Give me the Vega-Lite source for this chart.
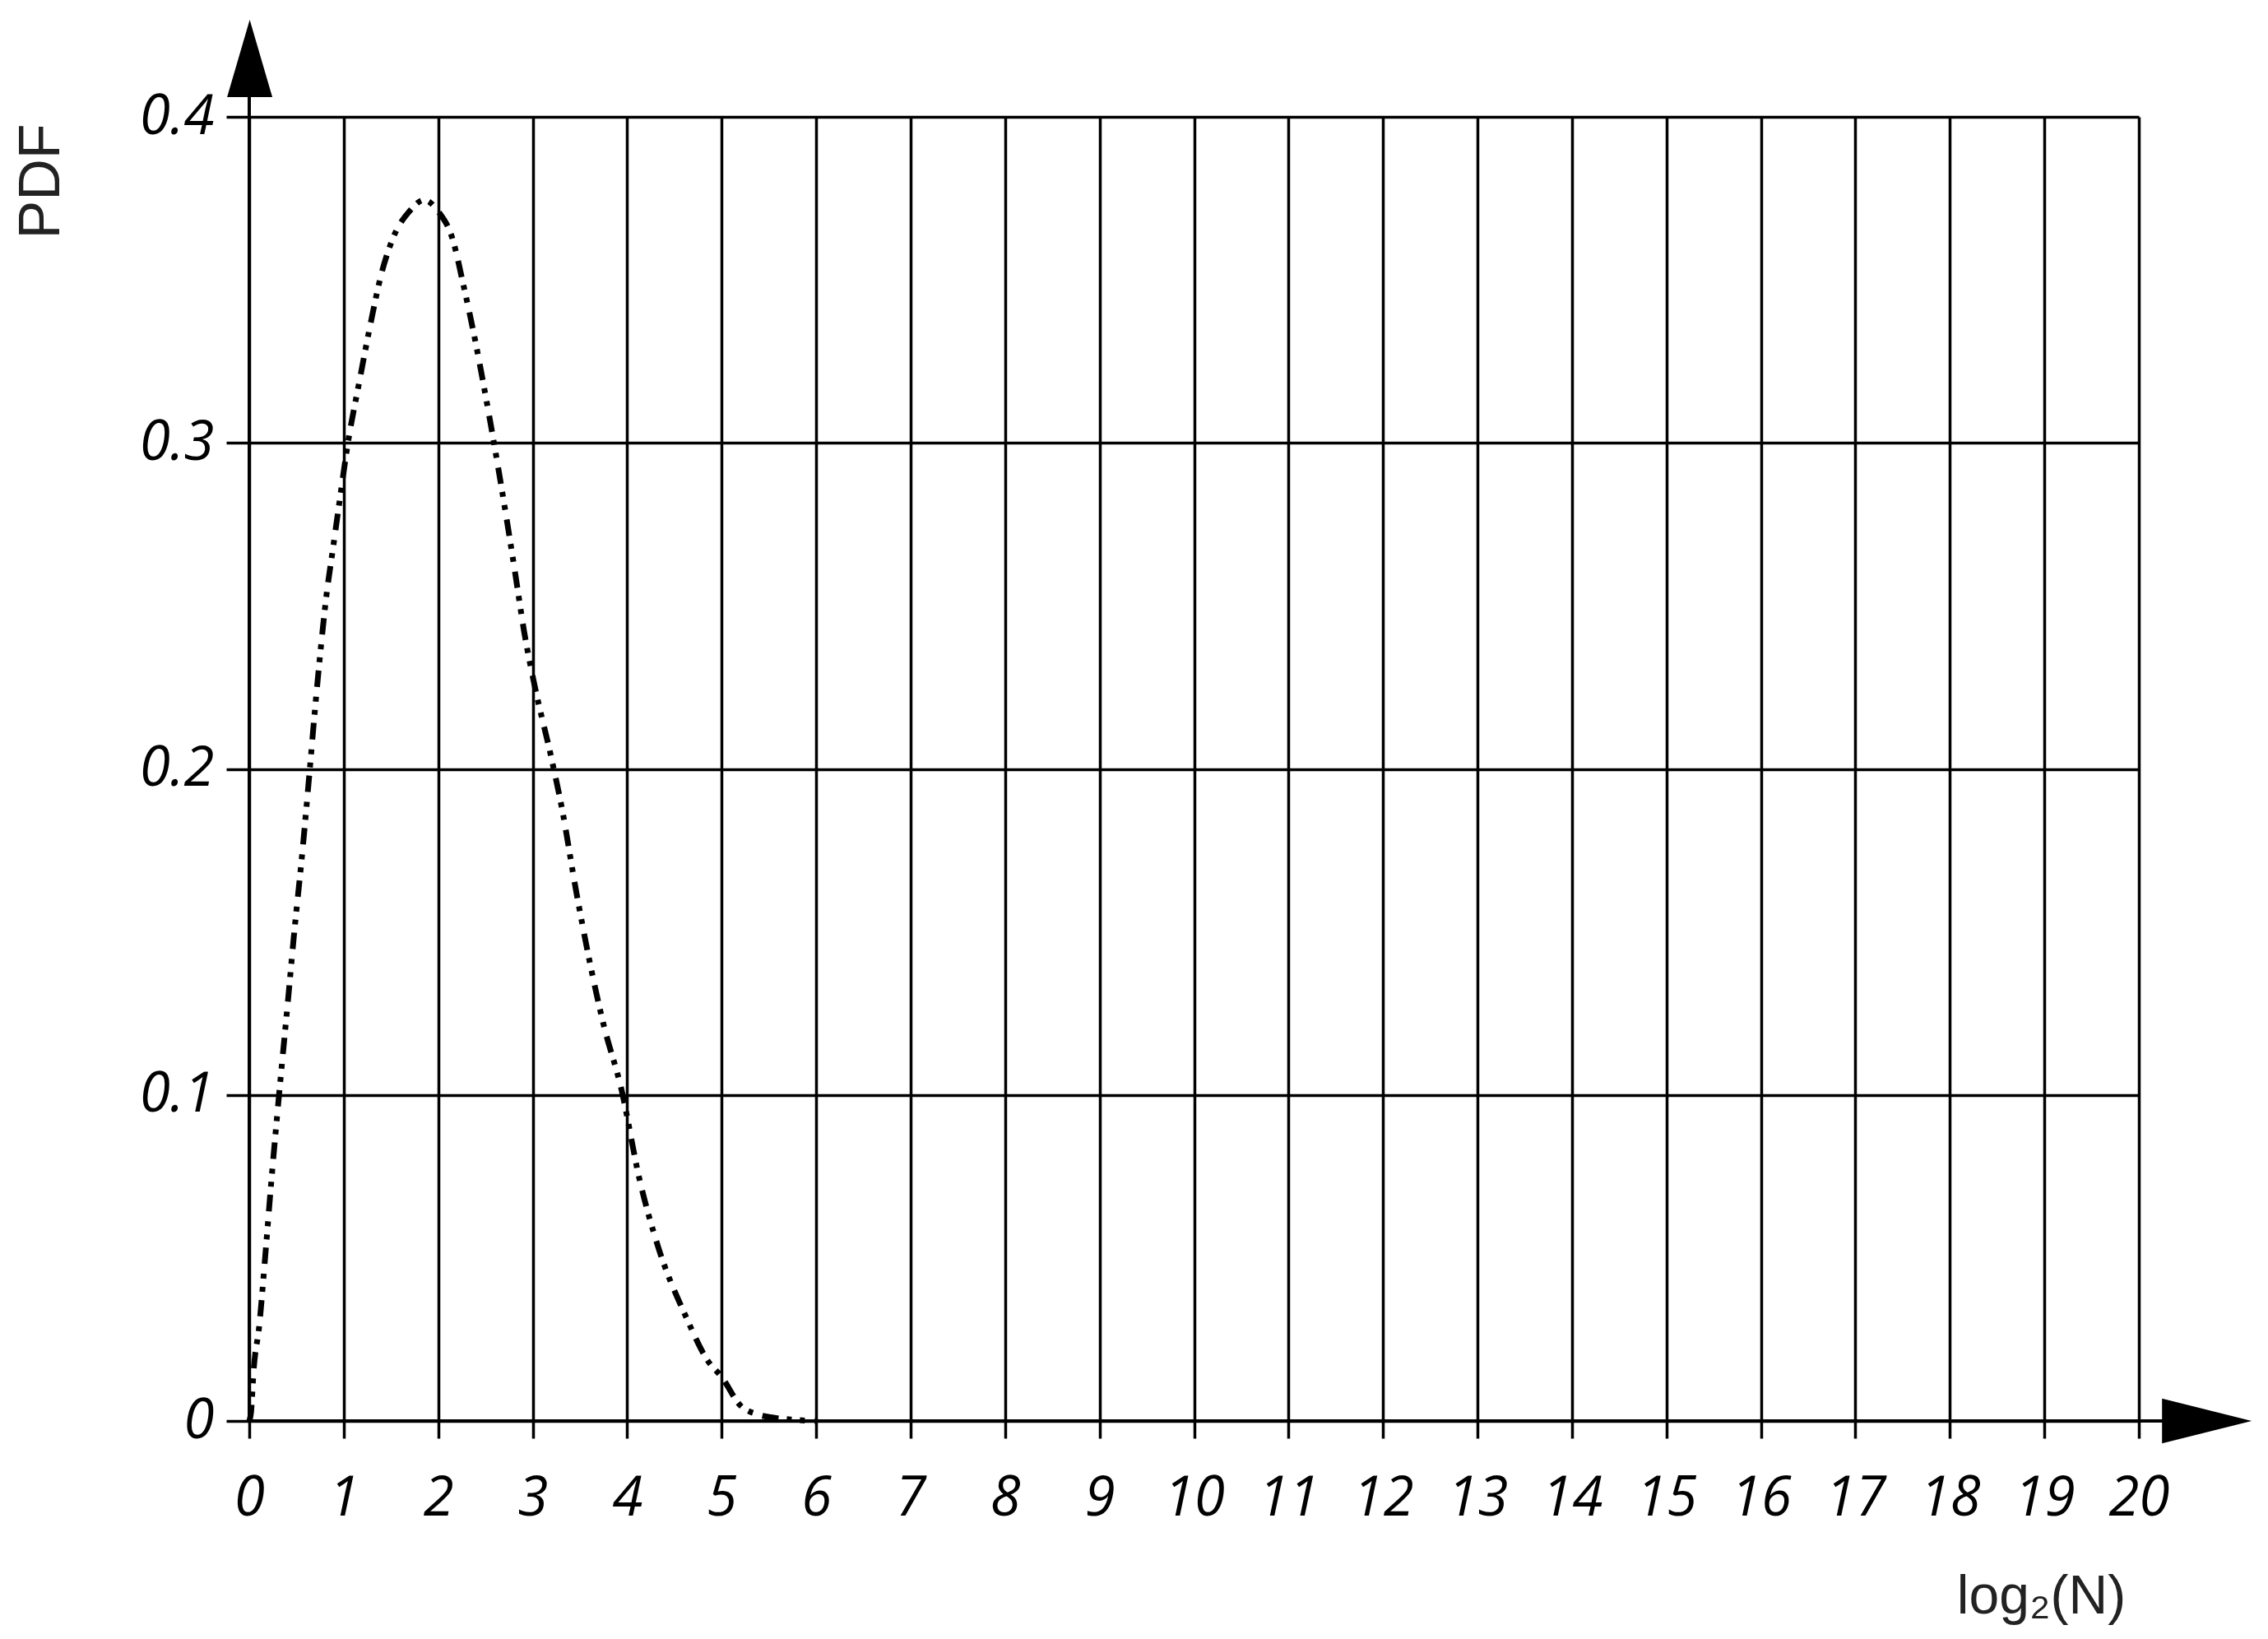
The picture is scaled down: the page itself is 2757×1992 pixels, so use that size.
{
  "$schema": "https://vega.github.io/schema/vega-lite/v6.json",
  "width": 2297,
  "height": 1585,
  "autosize": "none",
  "padding": {"left": 303, "top": 142, "right": 157, "bottom": 265},
  "background": "white",
  "config": {
    "view": {"stroke": null},
    "axis": {
      "gridColor": "black",
      "gridWidth": 3.5,
      "gridOpacity": 1,
      "tickColor": "black",
      "tickWidth": 3.5,
      "domain": false,
      "labelFont": "Open Sans",
      "labelFontStyle": "italic",
      "labelFontSize": 67,
      "labelColor": "#000",
      "labelOverlap": false,
      "labelFlush": false,
      "titleFont": "Liberation Sans",
      "titleFontWeight": "normal",
      "titleFontSize": 70,
      "titleColor": "#222"
    }
  },
  "layer": [
    {
      "data": {"values": [
        {"x": 0, "y": 0},
        {"x": 0.02, "y": 0.003},
        {"x": 0.045, "y": 0.015},
        {"x": 0.105, "y": 0.029},
        {"x": 0.176, "y": 0.053},
        {"x": 0.235, "y": 0.074},
        {"x": 0.32, "y": 0.1015},
        {"x": 0.41, "y": 0.129},
        {"x": 0.47, "y": 0.148},
        {"x": 0.567, "y": 0.176},
        {"x": 0.641, "y": 0.2},
        {"x": 0.698, "y": 0.219},
        {"x": 0.757, "y": 0.237},
        {"x": 0.816, "y": 0.253},
        {"x": 0.888, "y": 0.268},
        {"x": 0.96, "y": 0.283},
        {"x": 1.05, "y": 0.301},
        {"x": 1.16, "y": 0.318},
        {"x": 1.28, "y": 0.336},
        {"x": 1.4, "y": 0.352},
        {"x": 1.51, "y": 0.362},
        {"x": 1.71, "y": 0.3715},
        {"x": 1.85, "y": 0.3745},
        {"x": 2.0, "y": 0.371},
        {"x": 2.15, "y": 0.3627},
        {"x": 2.27, "y": 0.348},
        {"x": 2.39, "y": 0.3316},
        {"x": 2.5, "y": 0.3147},
        {"x": 2.59, "y": 0.3},
        {"x": 2.7, "y": 0.281},
        {"x": 2.82, "y": 0.259},
        {"x": 2.91, "y": 0.242},
        {"x": 3.02, "y": 0.2256},
        {"x": 3.195, "y": 0.2037},
        {"x": 3.31, "y": 0.1878},
        {"x": 3.46, "y": 0.1625},
        {"x": 3.75, "y": 0.1216},
        {"x": 3.94, "y": 0.1016},
        {"x": 4.13, "y": 0.0742},
        {"x": 4.33, "y": 0.0532},
        {"x": 4.62, "y": 0.0321},
        {"x": 4.855, "y": 0.0184},
        {"x": 5.0, "y": 0.0135},
        {"x": 5.2, "y": 0.0047},
        {"x": 5.38, "y": 0.002},
        {"x": 5.55, "y": 0.001},
        {"x": 5.75, "y": 0.0004},
        {"x": 6.0, "y": 0}
      ]},
      "mark": {
        "type": "line",
        "color": "black",
        "strokeWidth": 7,
        "strokeDash": [20, 10, 6, 10, 6, 12],
        "interpolate": "monotone",
        "clip": false
      },
      "encoding": {
        "x": {
          "field": "x",
          "type": "quantitative",
          "scale": {"domain": [0, 20], "nice": false, "zero": false},
          "axis": {
            "values": [0,1,2,3,4,5,6,7,8,9,10,11,12,13,14,15,16,17,18,19,20],
            "grid": true,
            "ticks": true,
            "tickSize": 21,
            "labelPadding": 40,
            "format": "d",
            "title": "log₂(N)",
            "titleX": 2178,
            "titleY": 213,
            "titleAlign": "center",
            "titleBaseline": "middle",
            "titleFontSize": 66
          }
        },
        "y": {
          "field": "y",
          "type": "quantitative",
          "scale": {"domain": [0, 0.4], "nice": false, "zero": true},
          "axis": {
            "values": [0, 0.1, 0.2, 0.3, 0.4],
            "grid": true,
            "ticks": true,
            "tickSize": 28,
            "labelPadding": 15,
            "labelExpr": "datum.value == 0 ? '0' : format(datum.value, '.1f')",
            "title": "PDF",
            "titleX": -253,
            "titleY": 78,
            "titleAngle": -90,
            "titleAlign": "center",
            "titleBaseline": "middle"
          }
        }
      }
    },
    {
      "data": {"values": [{}]},
      "mark": {"type": "rule", "color": "black", "strokeWidth": 4, "clip": false},
      "encoding": {
        "x": {"datum": 0, "type": "quantitative"},
        "x2": {"datum": 20.3},
        "y": {"datum": 0, "type": "quantitative"}
      }
    },
    {
      "data": {"values": [{}]},
      "mark": {"type": "rule", "color": "black", "strokeWidth": 4, "clip": false},
      "encoding": {
        "x": {"datum": 0, "type": "quantitative"},
        "y": {"datum": 0, "type": "quantitative"},
        "y2": {"datum": 0.408}
      }
    },
    {
      "data": {"values": [{}]},
      "mark": {"type": "point", "filled": true, "color": "black", "opacity": 1, "shape": "M-1,-0.5L1,0L-1,0.5Z", "size": 11881, "clip": false},
      "encoding": {
        "x": {"datum": 20.72, "type": "quantitative"},
        "y": {"datum": 0, "type": "quantitative"}
      }
    },
    {
      "data": {"values": [{}]},
      "mark": {"type": "point", "filled": true, "color": "black", "opacity": 1, "shape": "M-0.585,1L0,-1L0.585,1Z", "size": 8836, "clip": false},
      "encoding": {
        "x": {"datum": 0.005, "type": "quantitative"},
        "y": {"datum": 0.4179, "type": "quantitative"}
      }
    }
  ]
}
